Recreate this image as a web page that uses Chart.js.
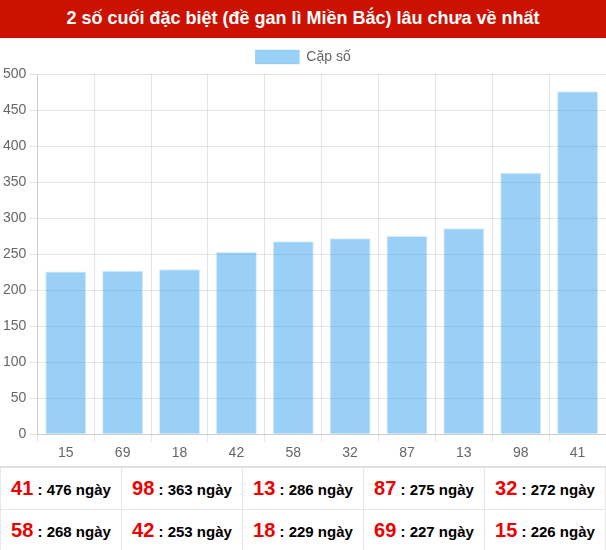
<!DOCTYPE html>
<html lang="vi">
<head>
<meta charset="utf-8">
<title>Lô gan Miền Bắc</title>
<script src="https://cdn.jsdelivr.net/npm/chart.js@4.4.1/dist/chart.umd.min.js"></script>
<style>
  body { margin: 0; font-family: Arial, "Liberation Sans", sans-serif; background: #fff; width: 606px; }
  .title-bar {
    background: #cc1100; color: #fff; font-weight: bold; font-size: 18px;
    height: 38px; line-height: 37px; text-align: center;
  }
  .chart-box { position: relative; width: 606px; height: 428px; }
  table.gan { border-collapse: collapse; width: 606px; table-layout: fixed; border-top: 2px solid #e0e0e0; }
  table.gan td {
    border: 1px solid #e6e6e6; height: 41px; padding: 0; text-align: center;
    font-weight: bold; font-size: 15px; color: #000; white-space: nowrap;
  }
  table.gan td b { color: #e00; font-size: 20px; }
</style>
</head>
<body>
<div class="title-bar">2 số cuối đặc biệt (đề gan lì Miền Bắc) lâu chưa về nhất</div>
<div class="chart-box"><canvas id="gan-chart"></canvas></div>
<table class="gan"><tbody id="gan-table"></tbody></table>

<script>
// ────── DATA ──────
const pairs = ["15", "69", "18", "42", "58", "32", "87", "13", "98", "41"];
const days = [226, 227, 229, 253, 268, 272, 275, 286, 363, 476];
const yTicks = [0, 50, 100, 150, 200, 250, 300, 350, 400, 450, 500];

/** ────── TABLE ────── */
function renderTable() {
  const body = document.getElementById("gan-table");
  // longest first, five per row
  const order = pairs.map((p, i) => ({ p, d: days[i] })).sort((a, b) => b.d - a.d);
  let html = "";
  for (let r = 0; r < order.length; r += 5) {
    html += "<tr>" + order.slice(r, r + 5)
      .map((o) => `<td><b>${o.p}</b> : ${o.d} ngày</td>`)
      .join("") + "</tr>";
  }
  body.innerHTML = html;
}

/** ────── CHART ────── */
function renderChart() {
  Chart.defaults.font.family = "Arial, 'Liberation Sans', sans-serif";
  Chart.defaults.font.size = 14;
  Chart.defaults.color = "#666";
  const ctx = document.getElementById("gan-chart").getContext("2d");
  new Chart(ctx, {
    type: "bar",
    data: {
      labels: pairs,
      datasets: [
        {
          label: "Cặp số",
          data: days,
          backgroundColor: "rgba(54, 162, 235, 0.5)",
          borderColor: "rgba(54, 162, 235, 0.2)",
          borderWidth: 1,
        },
      ],
    },
    options: {
      responsive: true,
      maintainAspectRatio: false,
      animation: false,
      layout: { padding: { top: 2, bottom: 1 } },
      scales: {
        y: {
          min: yTicks[0],
          max: yTicks[yTicks.length - 1],
          afterBuildTicks: (axis) => { axis.ticks = yTicks.map((v) => ({ value: v })); },
        },
      },
      plugins: { legend: { labels: { boxWidth: 44 } } },
    },
  });
}

document.addEventListener("DOMContentLoaded", () => {
  renderTable();
  renderChart();
});
</script>
</body>
</html>
